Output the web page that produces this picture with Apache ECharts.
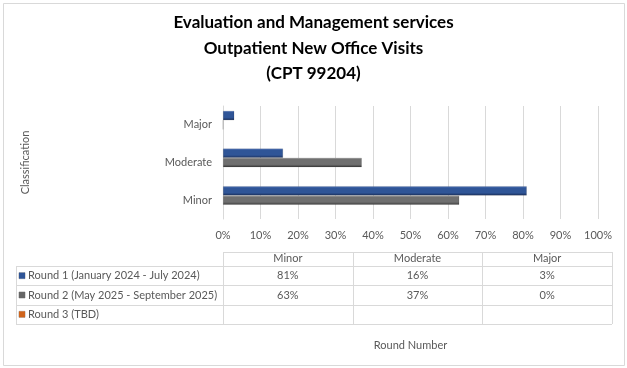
<!DOCTYPE html>
<html>
<head>
<meta charset="utf-8">
<script src="https://cdn.jsdelivr.net/npm/echarts@6/dist/echarts.min.js"></script>
<style>
html,body{margin:0;padding:0;background:#fff;}
#chart{width:627px;height:368px;}
</style>
</head>
<body>
<div id="chart"></div>
<script>
var titleLines = ['Evaluation and Management services', 'Outpatient New Office Visits', '(CPT 99204)'];
var categories = ['Minor', 'Moderate', 'Major'];
var seriesNames = ['Round 1 (January 2024 - July 2024)', 'Round 2 (May 2025 - September 2025)', 'Round 3 (TBD)'];
var round1 = [81, 16, 3];
var round2 = [63, 37, 0];
var round3 = [null, null, null];
var xTicks = [0, 10, 20, 30, 40, 50, 60, 70, 80, 90, 100];
var yAxisTitle = 'Classification';
var xAxisTitle = 'Round Number';

var FONT = 'Lato, "Open Sans", sans-serif';
var TXT = '#595959';

function grad(top, mid, bot) {
  return new echarts.graphic.LinearGradient(0, 0, 0, 1, [
    {offset: 0, color: top}, {offset: 0.18, color: mid}, {offset: 0.7, color: mid}, {offset: 1, color: bot}
  ]);
}
var colors = [
  {grad: grad('#5a7fc7', '#2f5597', '#1a2f5c'), solid: '#2f5597'},
  {grad: grad('#b5b5b5', '#6f6f6f', '#3a3a3a'), solid: '#666666'},
  {grad: grad('#f4a460', '#d0641c', '#8f3f0a'), solid: '#d0641c'}
];
var allSeries = [round1, round2, round3];

// main chart layout
var G = {left: 223, right: 29, top: 106, height: 113};
// table layout
var T = {left: 223, right: 612, headTop: 252, top: 266, bottom: 324, labelLeft: 16};

var series = [];
allSeries.forEach(function (vals, i) {
  series.push({
    type: 'bar', name: seriesNames[i], xAxisIndex: 0, yAxisIndex: 0,
    data: vals, barGap: '0%', barCategoryGap: '26%',
    itemStyle: {color: colors[i].grad, borderColor: 'rgba(0,0,0,0.25)', borderWidth: 0.5},
    silent: true
  });
});

// table values
var tableData = [];
allSeries.forEach(function (vals, r) {
  vals.forEach(function (v, c) {
    if (v !== null && v !== undefined) tableData.push([c, r, v]);
  });
});
series.push({
  type: 'custom', xAxisIndex: 1, yAxisIndex: 1, silent: true,
  data: tableData,
  encode: {x: 0, y: 1},
  renderItem: function (params, api) {
    var pt = api.coord([api.value(0), api.value(1)]);
    return {
      type: 'text',
      x: pt[0], y: pt[1],
      style: {text: api.value(2) + '%', fill: TXT, font: '11px ' + FONT, align: 'center', verticalAlign: 'middle'}
    };
  }
});

// table lines (decoration)
var rowH = (T.bottom - T.top) / 3;
var colW = (T.right - T.left) / 3;
var lineStyle = {stroke: '#d9d9d9', lineWidth: 1};
var graphics = [
  {type: 'rect', shape: {x: 3.5, y: 3.5, width: 621, height: 362}, style: {fill: 'none', stroke: '#d9d9d9', lineWidth: 1}, silent: true}
];
function hline(x1, x2, y) { graphics.push({type: 'line', shape: {x1: x1, y1: y, x2: x2, y2: y}, style: lineStyle, silent: true}); }
function vline(x, y1, y2) { graphics.push({type: 'line', shape: {x1: x, y1: y1, x2: x, y2: y2}, style: lineStyle, silent: true}); }
hline(T.left, T.right, T.headTop + 0.5);
for (var r = 0; r <= 3; r++) hline(T.labelLeft, T.right, Math.round(T.top + r * rowH) + 0.5);
for (var c = 0; c <= 3; c++) vline(Math.round(T.left + c * colW) + 0.5, T.headTop, T.bottom);
vline(T.labelLeft + 0.5, T.top, T.bottom);

var rich = {t: {color: TXT, fontFamily: FONT, fontSize: 11, padding: [0, 0, 0, 3]}};
colors.forEach(function (col, i) {
  rich['b' + i] = {width: 6, height: 6, backgroundColor: col.solid, borderColor: 'rgba(0,0,0,0.3)', borderWidth: 0.5};
});

var chart = echarts.init(document.getElementById('chart'), null, {renderer: 'canvas'});
chart.setOption({
  animation: false,
  backgroundColor: '#fff',
  title: {
    text: titleLines.join('\n'), left: 'center', top: 5,
    textStyle: {fontFamily: FONT, fontWeight: 'bold', fontSize: 17, lineHeight: 25.5, color: '#000'}
  },
  grid: [
    {left: G.left, right: G.right, top: G.top, height: G.height, containLabel: false},
    {left: T.left, width: T.right - T.left, top: T.top, height: T.bottom - T.top, containLabel: false}
  ],
  xAxis: [
    {type: 'value', gridIndex: 0, min: 0, max: 100, interval: 10,
      axisLine: {show: false}, axisTick: {show: false},
      splitLine: {lineStyle: {color: '#d9d9d9'}},
      axisLabel: {color: TXT, fontFamily: FONT, fontSize: 11, margin: 11, formatter: function (v) { return xTicks.indexOf(v) >= 0 ? v + '%' : ''; }},
      name: xAxisTitle, nameLocation: 'middle', nameGap: 121,
      nameTextStyle: {color: TXT, fontFamily: FONT, fontSize: 11}
    },
    {type: 'category', gridIndex: 1, data: categories, position: 'top',
      axisLine: {show: false}, axisTick: {show: false}, splitLine: {show: false},
      axisLabel: {color: TXT, fontFamily: FONT, fontSize: 11, margin: 2}
    }
  ],
  yAxis: [
    {type: 'category', gridIndex: 0, data: categories,
      axisLine: {show: true, lineStyle: {color: '#d9d9d9'}}, axisTick: {show: false},
      axisLabel: {color: TXT, fontFamily: FONT, fontSize: 11, margin: 11},
      name: yAxisTitle, nameLocation: 'middle', nameGap: 192, nameRotate: 90,
      nameTextStyle: {color: TXT, fontFamily: FONT, fontSize: 11}
    },
    {type: 'category', gridIndex: 1, data: seriesNames, inverse: true,
      axisLine: {show: false}, axisTick: {show: false}, splitLine: {show: false},
      axisLabel: {align: 'left', margin: T.left - 19, rich: rich,
        formatter: function (v) { var i = seriesNames.indexOf(v); return '{b' + i + '|}{t|' + v + '}'; }}
    }
  ],
  graphic: graphics,
  series: series
});
</script>
</body>
</html>
